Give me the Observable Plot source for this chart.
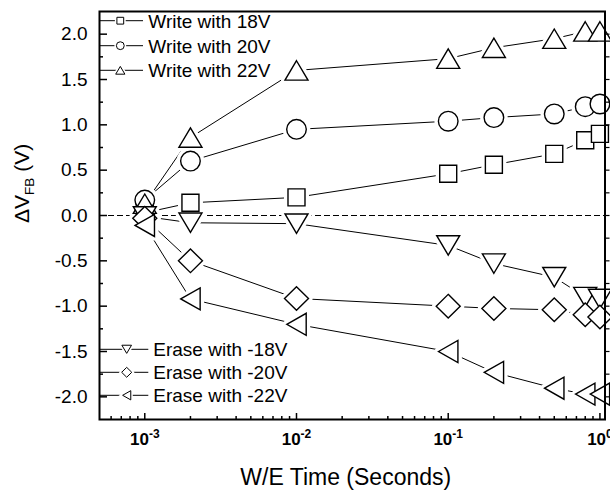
<!DOCTYPE html>
<html><head><meta charset="utf-8">
<script src="https://cdn.jsdelivr.net/npm/d3@7"></script>
<script src="https://cdn.jsdelivr.net/npm/@observablehq/plot@0.6"></script>
<style>body{margin:0;background:#fff}</style>
</head><body><div id="chart"></div>
<script>
// ---- data ----
const times   = [0.001, 0.002, 0.01, 0.1, 0.2, 0.5, 0.8, 1.0];
const write18 = [0.03, 0.14, 0.20, 0.46, 0.56, 0.68, 0.83, 0.90];
const write20 = [0.17, 0.60, 0.95, 1.04, 1.08, 1.12, 1.20, 1.23];
const write22 = [0.13, 0.86, 1.60, 1.73, 1.85, 1.95, 2.03, 2.03];
const erase18 = [-0.01, -0.08, -0.09, -0.33, -0.53, -0.68, -0.90, -0.92];
const erase20 = [-0.03, -0.50, -0.915, -1.00, -1.025, -1.04, -1.095, -1.12];
const erase22 = [-0.11, -0.92, -1.20, -1.50, -1.73, -1.905, -1.97, -1.97];
const seriesNames = ["Write with 18V", "Write with 20V", "Write with 22V",
                     "Erase with -18V", "Erase with -20V", "Erase with -22V"];
const xTickValues = [1e-3, 1e-2, 1e-1, 1];
const yTickValues = [-2, -1.5, -1, -0.5, 0, 0.5, 1, 1.5, 2];
const xLabel = "W/E Time (Seconds)";

// ---- symbols (sized so r = 10 gives the main marker) ----
function unit(size) { return Math.sqrt(size / (Math.PI * 100)); }
function polySymbol(pts) {
  return {draw(ctx, size) {
    const s = unit(size);
    ctx.moveTo(pts[0][0] * s, pts[0][1] * s);
    for (let i = 1; i < pts.length; i++) ctx.lineTo(pts[i][0] * s, pts[i][1] * s);
    ctx.closePath();
  }};
}
const symSquare = polySymbol([[-8.5,-8.5],[8.5,-8.5],[8.5,8.5],[-8.5,8.5]]);
const symCircle = {draw(ctx, size) { const r = 9.8 * unit(size); ctx.moveTo(r, 0); ctx.arc(0, 0, r, 0, 2 * Math.PI); }};
const symUp = polySymbol([[0,-9.7],[11.5,9.7],[-11.5,9.7]]);
const symDown = polySymbol([[0,9.7],[11.5,-9.7],[-11.5,-9.7]]);
const symDiamond = polySymbol([[0,-11.8],[12,0],[0,11.8],[-12,0]]);
const symLeft = polySymbol([[-9.7,0],[9.7,-11],[9.7,11]]);
const symbols = [symSquare, symCircle, symUp, symDown, symDiamond, symLeft];

const seriesValues = [write18, write20, write22, erase18, erase20, erase22];
const series = seriesNames.map((name, i) => ({
  name, sym: symbols[i],
  rows: times.map((t, j) => ({t, v: seriesValues[i][j]}))
}));

// ---- layout ----
const W = 610, H = 490, mL = 99, mR = 5.5, mT = 11, mB = 71;
const plotW = W - mL - mR, plotH = H - mT - mB;

const xMinor = [];
for (const dec of [1e-4, 1e-3, 1e-2, 1e-1]) for (let k = 2; k <= 9; k++) {
  const v = k * dec; if (v > 5.1e-4 && v < 1) xMinor.push(v);
}
const yMinor = [], yAll = [];
for (let k = -8; k <= 8; k++) { yAll.push(k * 0.25); if (k % 2) yMinor.push(k * 0.25); }

const marks = [
  Plot.ruleY([0], {stroke: "black", strokeWidth: 1, strokeDasharray: "6,3"}),
  ...series.map(s => Plot.line(s.rows, {x: "t", y: "v", stroke: "black", strokeWidth: 1})),
  ...series.map(s => Plot.dot(s.rows, {x: "t", y: "v", symbol: s.sym, r: 10, fill: "white", stroke: "white", strokeWidth: 8, strokeLinejoin: "round"})),
  ...series.map(s => Plot.dot(s.rows, {x: "t", y: "v", symbol: s.sym, r: 10, fill: "white", stroke: "black", strokeWidth: 1.4})),
  Plot.tickX(xTickValues, {x: d => d, insetTop: plotH - 6, stroke: "black", strokeWidth: 1.5}),
  Plot.tickX(xMinor, {x: d => d, insetTop: plotH - 3, stroke: "black", strokeWidth: 1.5}),
  Plot.tickY(yTickValues, {y: d => d, insetRight: plotW - 8, stroke: "black", strokeWidth: 1.5}),
  Plot.tickY(yMinor, {y: d => d, insetRight: plotW - 4, stroke: "black", strokeWidth: 1.5}),
  Plot.tickY(yAll, {y: d => d, insetLeft: plotW, insetRight: -5, stroke: "black", strokeWidth: 1.2}),
  Plot.axisX({ticks: xTickValues, tickSize: 0, tickPadding: 13, label: null, fontSize: 17, fontWeight: "bold",
              tickFormat: d => "10^" + Math.round(Math.log10(d))}),
  Plot.axisY({ticks: yTickValues, tickSize: 0, tickPadding: 12, label: null, fontSize: 19,
              tickFormat: d => d.toFixed(1)}),
  Plot.frame({stroke: "black", strokeWidth: 2})
];

const svg = Plot.plot({
  width: W, height: H, marginLeft: mL, marginRight: mR, marginTop: mT, marginBottom: mB,
  x: {type: "log", domain: [5.03e-4, 1.08]},
  y: {domain: [-2.25, 2.25]},
  style: {fontFamily: "'Liberation Sans', Arial, sans-serif", fontSize: "18px", background: "white", color: "black", overflow: "visible"},
  marks
});
document.getElementById("chart").append(svg);

// ---- superscript tick labels ----
const S = d3.select(svg);
S.selectAll("text").each(function() {
  const t = this.textContent;
  if (t.startsWith("10^")) {
    const e = t.slice(3);
    this.textContent = "";
    const sel = d3.select(this);
    sel.append("tspan").text("10");
    sel.append("tspan").attr("dy", -7).attr("font-size", 12).text(e);
  }
});

const xs = svg.scale("x"), ys = svg.scale("y");
const x0 = xs.range[0], x1 = xs.range[1];
const yBottom = ys.range[0], yTop = ys.range[1];
const yZero = ys.apply(0);

// axis titles
S.append("text").attr("x", (x0 + x1) / 2 - 6).attr("y", yBottom + 66).attr("text-anchor", "middle")
  .attr("font-size", 23).attr("fill", "black").text(xLabel);
const yt = S.append("text").attr("transform", `translate(${x0 - 70},${yZero + 8}) rotate(-90)`)
  .attr("text-anchor", "start").attr("font-size", 21).attr("fill", "black");
yt.append("tspan").text("\u0394V");
yt.append("tspan").attr("font-size", 13.5).attr("dy", 5).text("FB");
yt.append("tspan").attr("dy", -5).text(" (V)");

// legend
function symPath(sym, r) { const p = d3.path(); sym.draw(p, r * r * Math.PI); return p.toString(); }
function legendRow(i, y, lineEnd, markX, textX, r) {
  const g = S.append("g");
  g.append("line").attr("x1", x0).attr("x2", lineEnd).attr("y1", y).attr("y2", y).attr("stroke", "black").attr("stroke-width", 1);
  g.append("path").attr("d", symPath(symbols[i], r)).attr("transform", `translate(${markX},${y})`)
    .attr("fill", "white").attr("stroke", "white").attr("stroke-width", 4);
  g.append("path").attr("d", symPath(symbols[i], r)).attr("transform", `translate(${markX},${y})`)
    .attr("fill", "white").attr("stroke", "black").attr("stroke-width", 1);
  g.append("text").attr("x", textX).attr("y", y + 7).attr("text-anchor", "start")
    .attr("font-size", 19).attr("fill", "black").text(seriesNames[i]);
}
[9.7, 34.7, 59.3].forEach((dy, k) => legendRow(k, yTop + dy, x0 + 44, x0 + 21.3, x0 + 49.3, 4));
[-69.7, -46.7, -23.7].forEach((dy, k) => legendRow(3 + k, yBottom + dy, x0 + 49.3, x0 + 27.7, x0 + 54.3, 4.2));
</script>
</body></html>
